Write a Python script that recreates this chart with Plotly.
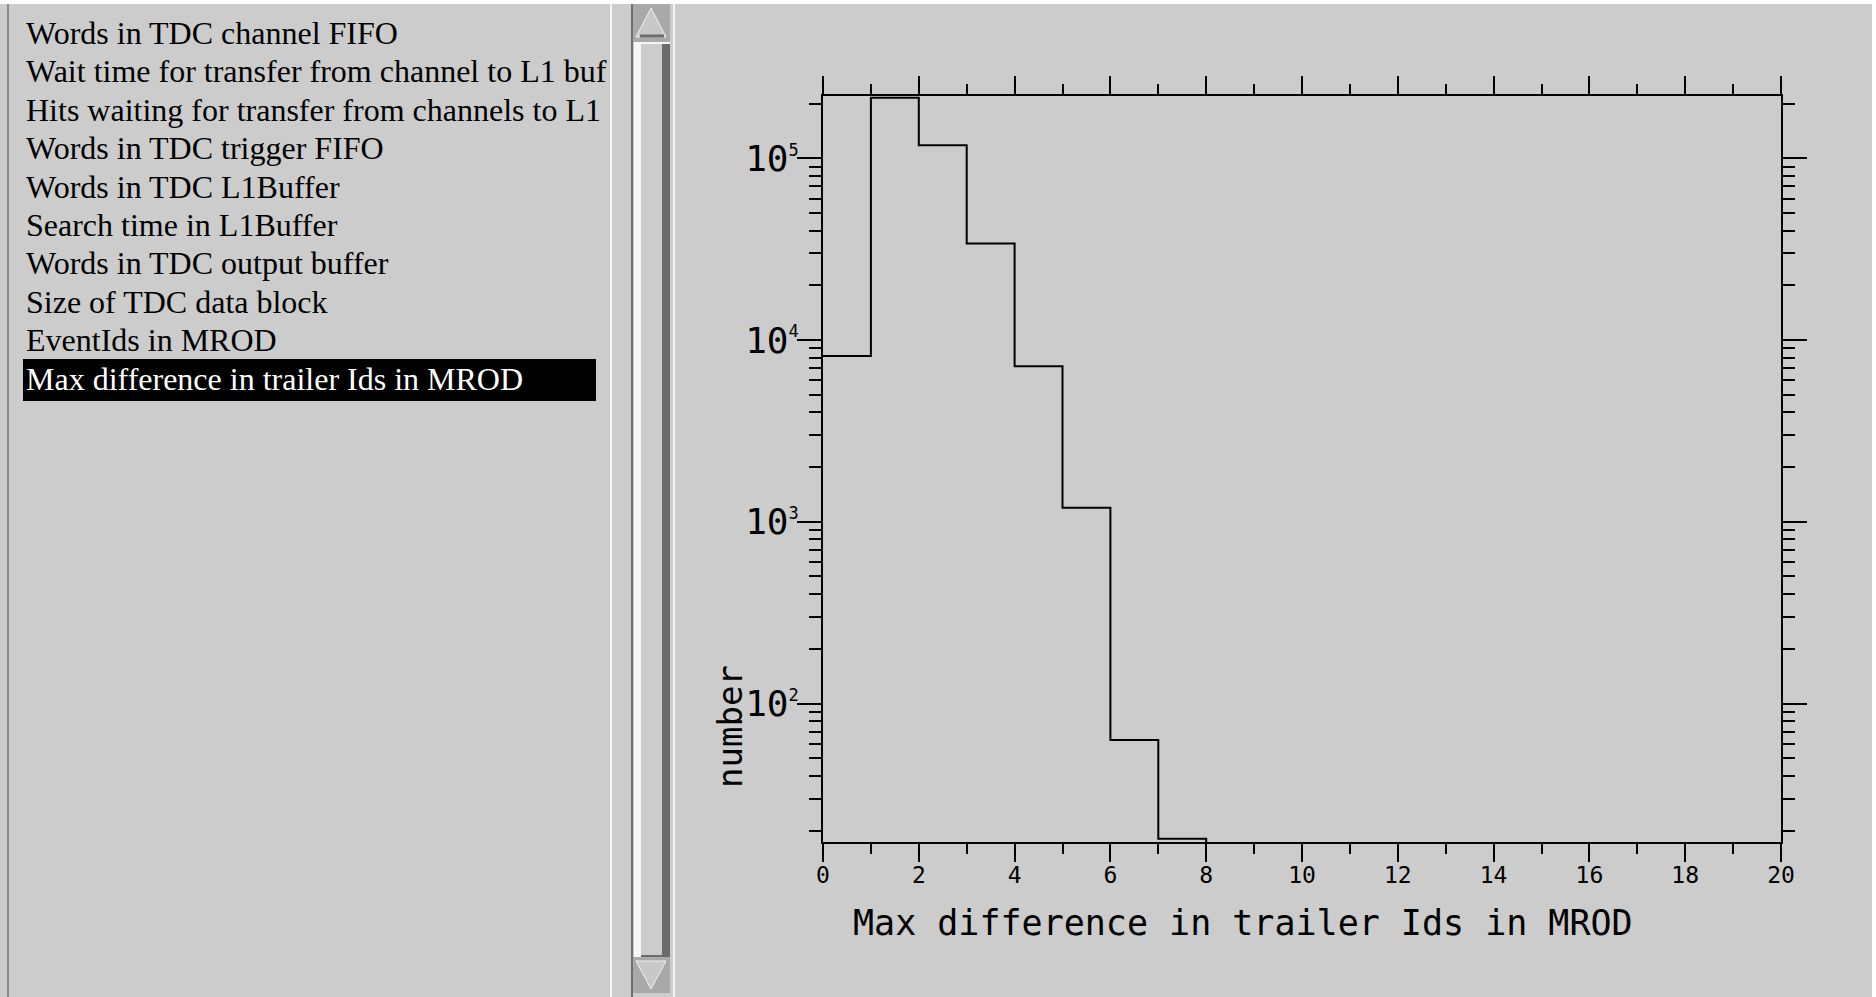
import math
import plotly.graph_objects as go

# ---------------- data ----------------
list_items = [
    "Words in TDC channel FIFO",
    "Wait time for transfer from channel to L1 buf",
    "Hits waiting for transfer from channels to L1",
    "Words in TDC trigger FIFO",
    "Words in TDC L1Buffer",
    "Search time in L1Buffer",
    "Words in TDC output buffer",
    "Size of TDC data block",
    "EventIds in MROD",
    "Max difference in trailer Ids in MROD",
]
selected_index = 9

bin_edges = list(range(0, 21))
counts = [8175, 215000, 117900, 34000, 7180, 1193, 63, 18,
          0, 0, 0, 0, 0, 0, 0, 0, 0, 0, 0, 0]

x_tick_vals = [0, 2, 4, 6, 8, 10, 12, 14, 16, 18, 20]
x_tick_text = [str(v) for v in x_tick_vals]
x_minor_vals = [1, 3, 5, 7, 9, 11, 13, 15, 17, 19]
y_tick_vals = [1e2, 1e3, 1e4, 1e5]
y_exponents = ["2", "3", "4", "5"]
y_minor_vals = [m * 10 ** e for e in (1, 2, 3, 4) for m in range(2, 10)] + [2e5]
x_title = "Max difference in trailer Ids in MROD"
y_title = "number"
y_min, y_max = 17.3, 2.2e5

# ---------------- layout geometry ----------------
W, H = 1876, 997
L, R, T, B = 823, 1781, 96, 842
BG = "#cccccc"
MONO = "DejaVu Sans Mono"
SERIF = "Liberation Serif"

y_tick_text = ['10<sup><span style="font-size:17px">%s</span></sup>' % e for e in y_exponents]


def fx(px):
    return (px - L) / (R - L)


def fy(py):
    return (B - py) / (B - T)


# histogram drawn as a step line; empty bins fall below the axis floor
floor = 1.0
step_y = [c if c > 0 else floor for c in counts]
step_y = step_y + [step_y[-1]]

fig = go.Figure()
fig.add_trace(go.Scatter(
    x=bin_edges, y=step_y, mode="lines", line_shape="hv",
    line=dict(color="black", width=2), showlegend=False, hoverinfo="skip",
))

axis_common = dict(
    showline=True, linecolor="black", linewidth=2, mirror="ticks",
    ticks="outside", tickcolor="black", tickwidth=2, showgrid=False,
    zeroline=False,
)

fig.update_xaxes(
    range=[0, 20], tickmode="array", tickvals=x_tick_vals, ticktext=x_tick_text,
    ticklen=18, tickfont=dict(family=MONO, size=23, color="black"),
    ticklabelstandoff=-7,
    minor=dict(tickmode="array", tickvals=x_minor_vals, ticks="outside",
               ticklen=10, tickwidth=2, tickcolor="black", showgrid=False),
    **axis_common,
)
fig.update_yaxes(
    type="log", range=[math.log10(y_min), math.log10(y_max)],
    tickmode="array", tickvals=y_tick_vals, ticktext=y_tick_text,
    ticklen=24, tickfont=dict(family=MONO, size=36, color="black"),
    ticklabelstandoff=-9,
    minor=dict(tickmode="array", tickvals=y_minor_vals, ticks="outside",
               ticklen=12, tickwidth=2, tickcolor="black", showgrid=False),
    **axis_common,
)

shapes = []


def rect(x0, y0, x1, y1, fill, line_color=None, lw=0):
    shapes.append(dict(type="rect", xref="paper", yref="paper",
                       x0=fx(x0), x1=fx(x1), y0=fy(y0), y1=fy(y1),
                       fillcolor=fill, line=dict(width=lw, color=line_color or fill),
                       layer="above"))


def vline(x, y0, y1, color, w):
    shapes.append(dict(type="line", xref="paper", yref="paper",
                       x0=fx(x), x1=fx(x), y0=fy(y0), y1=fy(y1),
                       line=dict(color=color, width=w), layer="above"))


def hline(y, x0, x1, color, w):
    shapes.append(dict(type="line", xref="paper", yref="paper",
                       x0=fx(x0), x1=fx(x1), y0=fy(y), y1=fy(y),
                       line=dict(color=color, width=w), layer="above"))


def tri(points, fill, edge):
    path = "M " + " L ".join(f"{fx(a)},{fy(b)}" for a, b in points) + " Z"
    shapes.append(dict(type="path", xref="paper", yref="paper", path=path,
                       fillcolor=fill, line=dict(color=edge, width=1), layer="above"))


# window frame strips
rect(0, 0, W, 4, "white")
rect(1872, 0, W, H, "white")
vline(8, 4, H, "#8a8a8a", 2)
vline(611, 4, H, "#f4f4f4", 2)
vline(632, 4, H, "#6e6e6e", 2)
vline(674, 4, H, "#f4f4f4", 2)

# scrollbar slider
rect(634, 42, 670, 957, BG)
rect(634, 42, 641, 957, "#f6f6f6")
rect(662, 42, 670, 957, "#6b6b6b")
hline(43, 634, 670, "#f6f6f6", 2)
hline(956, 641, 670, "#6b6b6b", 2)

# arrow buttons
rect(633, 4, 670, 42, "#a9a9a9")
tri([(651, 8), (636, 37), (666, 37)], "#c8c8c8", "#f0f0f0")
hline(36, 640, 664, "#6b6b6b", 3)
rect(633, 957, 670, 993, "#a9a9a9")
tri([(651, 989), (636, 961), (666, 961)], "#c8c8c8", "#f0f0f0")

# selection bar in list
rect(23, 359, 596, 401, "black")

annotations = []
row0, row_step = 33, 38.4
for i, name in enumerate(list_items):
    annotations.append(dict(
        xref="paper", yref="paper", x=fx(24), y=fy(row0 + i * row_step),
        text=name, showarrow=False, xanchor="left", yanchor="middle",
        font=dict(family=SERIF, size=32,
                  color="white" if i == selected_index else "black"),
    ))

annotations.append(dict(
    xref="paper", yref="paper", x=fx(1243), y=fy(923), text=x_title,
    showarrow=False, xanchor="center", yanchor="middle",
    font=dict(family=MONO, size=35, color="black"),
))
annotations.append(dict(
    xref="paper", yref="paper", x=fx(730), y=fy(727), text=y_title,
    showarrow=False, xanchor="center", yanchor="middle", textangle=-90,
    font=dict(family=MONO, size=34, color="black"),
))

fig.update_layout(
    width=W, height=H, autosize=False,
    margin=dict(l=L, r=W - R, t=T, b=H - B, pad=0),
    paper_bgcolor=BG, plot_bgcolor=BG,
    shapes=shapes, annotations=annotations, showlegend=False,
)

fig.write_html("out.html", config={"displayModeBar": False},
               post_script="document.body.style.margin='0';document.body.style.overflow='hidden';")
